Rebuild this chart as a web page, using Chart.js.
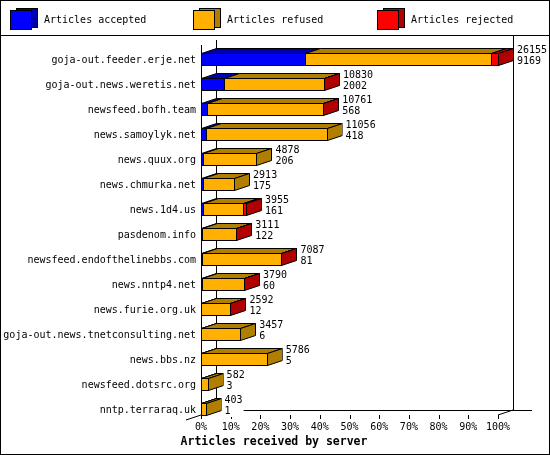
<!DOCTYPE html>
<html><head><meta charset="utf-8">
<script src="https://cdn.jsdelivr.net/npm/chart.js@4.4.1/dist/chart.umd.min.js"></script>
<style>html,body{margin:0;padding:0;background:#fff}canvas{display:block}</style>
</head><body>
<canvas id="c" width="550" height="455"></canvas>
<script>
const servers = [
  'goja-out.feeder.erje.net',
  'goja-out.news.weretis.net',
  'newsfeed.bofh.team',
  'news.samoylyk.net',
  'news.quux.org',
  'news.chmurka.net',
  'news.1d4.us',
  'pasdenom.info',
  'newsfeed.endofthelinebbs.com',
  'news.nntp4.net',
  'news.furie.org.uk',
  'goja-out.news.tnetconsulting.net',
  'news.bbs.nz',
  'newsfeed.dotsrc.org',
  'nntp.terraraq.uk'
];
const offered  = [26155, 10830, 10761, 11056, 4878, 2913, 3955, 3111, 7087, 3790, 2592, 3457, 5786, 582, 403];
const accepted = [9169, 2002, 568, 418, 206, 175, 161, 122, 81, 60, 12, 6, 5, 3, 1];
// rejected counts
const rejected = [650, 40, 40, 0, 0, 0, 240, 40, 40, 40, 40, 0, 0, 0, 0];
const xTicks = [0, 10, 20, 30, 40, 50, 60, 70, 80, 90, 100];
const seriesNames = ['Articles accepted', 'Articles refused', 'Articles rejected'];
const frontColors = ['#0000ff', '#ffb000', '#ff0000'];
const darkColors  = ['#0000b0', '#b07f00', '#b00000'];
const axisTitle = 'Articles received by server';

const maxOffered = Math.max(...offered);
const refused = offered.map((t, i) => t - accepted[i] - rejected[i]);
const toPct = arr => arr.map(v => v / maxOffered * 100);

const DX = 15, DY = 5;
const FONT = '10px "DejaVu Sans Mono", monospace';
const BOLD = 'bold 11.5px "DejaVu Sans Mono", monospace';
const r = v => Math.round(v) + 0.5;

function line(ctx, pts) {
  ctx.beginPath();
  ctx.moveTo(pts[0][0], pts[0][1]);
  for (let k = 1; k < pts.length; k++) ctx.lineTo(pts[k][0], pts[k][1]);
  ctx.stroke();
}
function poly(ctx, pts, fill) {
  ctx.beginPath();
  ctx.moveTo(pts[0][0], pts[0][1]);
  for (let k = 1; k < pts.length; k++) ctx.lineTo(pts[k][0], pts[k][1]);
  ctx.closePath();
  ctx.fillStyle = fill;
  ctx.fill();
  ctx.stroke();
}

const plugin3d = {
  id: 'bars3d',
  beforeDraw(chart) {
    const ctx = chart.ctx;
    const xs = chart.scales.x, ys = chart.scales.y;
    const W = chart.width, H = chart.height;
    ctx.save();
    ctx.fillStyle = '#fff';
    ctx.fillRect(0, 0, W, H);
    ctx.strokeStyle = '#000';
    ctx.lineWidth = 1;
    // outer border + header separator
    ctx.strokeRect(0.5, 0.5, W - 1, H - 1);
    line(ctx, [[0, 35.5], [W, 35.5]]);
    // legend
    const legX = [10, 193, 377];
    ctx.font = FONT;
    ctx.textBaseline = 'middle';
    ctx.textAlign = 'left';
    for (let d = 0; d < 3; d++) {
      const x0 = legX[d];
      ctx.fillStyle = darkColors[d];
      ctx.fillRect(x0 + 6.5, 8.5, 21, 19);
      ctx.strokeRect(x0 + 6.5, 8.5, 21, 19);
      ctx.fillStyle = frontColors[d];
      ctx.fillRect(x0 + 0.5, 10.5, 21, 19);
      ctx.strokeRect(x0 + 0.5, 10.5, 21, 19);
      ctx.fillStyle = '#000';
      ctx.fillText(seriesNames[d], x0 + 34, 20);
    }
    // 3D frame
    const xL = xs.getPixelForValue(0), xR = xs.getPixelForValue(100);
    const floorF = 415, floorB = floorF - DY;
    line(ctx, [[r(xL + DX), 40], [r(xL + DX), floorB + 0.5]]);
    line(ctx, [[r(xR + DX), 36], [r(xR + DX), floorB + 0.5]]);
    line(ctx, [[r(xL + DX), floorB + 0.5], [xR + DX + 19, floorB + 0.5]]);
    line(ctx, [[xR, floorF], [xR + DX, floorB]]);
    line(ctx, [[xL - 15, floorF + 5], [xL + DX, floorB]]);
    line(ctx, [[r(xL), 45], [r(xL), floorF + 4]]);
    // ticks
    ctx.textAlign = 'center';
    for (const v of xTicks) {
      const px = xs.getPixelForValue(v);
      line(ctx, [[r(px), floorF], [r(px), floorF + 4]]);
      ctx.fillText(v + '%', px, 427);
    }
    ctx.font = BOLD;
    ctx.fillText(axisTitle, 274, 442);
    // category labels
    ctx.font = FONT;
    ctx.textAlign = 'right';
    servers.forEach((s, i) => {
      ctx.fillText(s, xL - 5, ys.getPixelForTick(i) + 1);
    });
    ctx.restore();
  },
  beforeDatasetsDraw(chart) {
    const ctx = chart.ctx;
    ctx.save();
    ctx.strokeStyle = '#000';
    ctx.lineWidth = 1;
    ctx.lineJoin = 'miter';
    const n = servers.length;
    const ends = [];
    for (let i = 0; i < n; i++) {
      const segs = [];
      for (let d = 0; d < chart.data.datasets.length; d++) {
        const el = chart.getDatasetMeta(d).data[i];
        const p = el.getProps(['x', 'y', 'base', 'height'], true);
        const v = chart.data.datasets[d].data[i];
        if (v > 0) segs.push({ d, x0: Math.min(p.x, p.base), x1: Math.max(p.x, p.base), y: p.y, h: p.height });
      }
      if (!segs.length) continue;
      const t = r(segs[0].y - segs[0].h / 2), b = t + Math.round(segs[0].h);
      // top faces
      for (const s of segs) {
        const a = r(s.x0), c = r(s.x1);
        poly(ctx, [[a, t], [c, t], [c + DX, t - DY], [a + DX, t - DY]], darkColors[s.d]);
      }
      // side face
      const last = segs[segs.length - 1];
      const e = r(last.x1);
      poly(ctx, [[e, t], [e + DX, t - DY], [e + DX, b - DY], [e, b]], darkColors[last.d]);
      // front faces
      for (const s of segs) {
        const a = r(s.x0), c = r(s.x1);
        ctx.fillStyle = frontColors[s.d];
        ctx.fillRect(a, t, c - a, b - t);
        ctx.strokeRect(a, t, c - a, b - t);
      }
      ends.push({ i, x: last.x1, y: segs[0].y });
    }
    // value labels
    ctx.font = FONT;
    ctx.textBaseline = 'middle';
    ctx.textAlign = 'left';
    for (const en of ends) {
      const lx = en.x + DX + 4;
      const l1 = String(offered[en.i]), l2 = String(accepted[en.i]);
      const w = Math.max(ctx.measureText(l1).width, ctx.measureText(l2).width);
      ctx.fillStyle = '#fff';
      ctx.fillRect(lx - 3, en.y - 14, w + 4, 22);
      ctx.fillStyle = '#000';
      ctx.fillText(l1, lx, en.y - 9);
      ctx.fillText(l2, lx, en.y + 2);
    }
    ctx.restore();
    return false;
  }
};

new Chart(document.getElementById('c'), {
  type: 'bar',
  data: {
    labels: servers,
    datasets: [
      { label: seriesNames[0], data: toPct(accepted), backgroundColor: frontColors[0] },
      { label: seriesNames[1], data: toPct(refused), backgroundColor: frontColors[1] },
      { label: seriesNames[2], data: toPct(rejected), backgroundColor: frontColors[2] }
    ]
  },
  options: {
    indexAxis: 'y',
    responsive: false,
    animation: false,
    devicePixelRatio: 1,
    barThickness: 12,
    layout: { padding: { left: 201, right: 52, top: 46.5, bottom: 33.5 } },
    plugins: { legend: { display: false }, tooltip: { enabled: false }, title: { display: false } },
    scales: {
      x: { type: 'linear', min: 0, max: 100, stacked: true, display: false },
      y: { type: 'category', stacked: true, display: false, offset: true }
    }
  },
  plugins: [plugin3d]
});
</script>
</body></html>
